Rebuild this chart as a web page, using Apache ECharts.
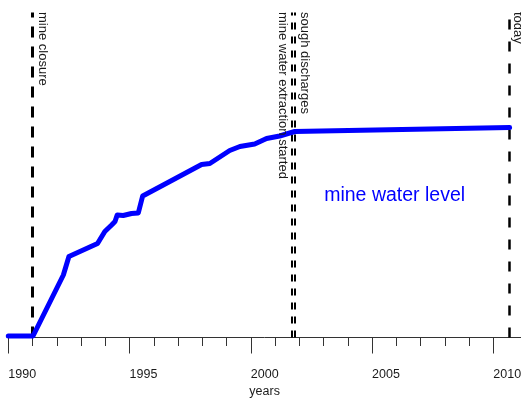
<!DOCTYPE html>
<html>
<head>
<meta charset="utf-8">
<script src="https://cdn.jsdelivr.net/npm/echarts@6/dist/echarts.min.js"></script>
<style>
  html, body { margin: 0; padding: 0; background: #fff; }
  #chart { width: 521px; height: 398px; }
</style>
</head>
<body>
<div id="chart"></div>
<script>
// Mine water level (relative rise) over time
const years = [1990.0, 1991.02, 1992.27, 1992.5, 1993.68, 1993.98, 1994.26, 1994.4, 1994.49,
               1994.74, 1995.08, 1995.36, 1995.54, 1996.66, 1997.97, 1998.31, 1999.13,
               1999.55, 2000.16, 2000.65, 2001.19, 2001.81, 2010.67];
const waterLevel = [1.5, 1.5, 62.5, 81, 94, 106, 112.5, 116, 122.5,
                    122, 124, 124.5, 141.5, 156, 173, 174, 187,
                    191, 193.5, 199, 201.5, 206, 210];

// Event markers
const closureYear = 1991.0;
const extractionYear = 2001.68;
const soughYear = 2001.81;
const todayYear = 2010.65;

// Axis ticks and labels
const yearTicks = [1990, 1991, 1992, 1993, 1994, 1995, 1996, 1997, 1998, 1999, 2000,
                   2001, 2002, 2003, 2004, 2005, 2006, 2007, 2008, 2009, 2010];
const majorTicks = [1990, 1995, 2000, 2005, 2010];

const FONT = '"Liberation Sans", Arial, sans-serif';
const TEXT = '#1a1a1a';

const chart = echarts.init(document.getElementById('chart'), null, { renderer: 'canvas' });

const xMin = 1990, xMax = 2011.14;

chart.setOption({
  animation: false,
  backgroundColor: '#ffffff',
  grid: { left: 8.3, right: 0, top: 12.5, bottom: 60.5, containLabel: false, outerBoundsMode: 'none' },
  xAxis: [
    {
      type: 'value', min: xMin, max: xMax,
      axisLine: { show: true, lineStyle: { color: '#333', width: 1 } },
      axisTick: { show: true, length: 8.5, customValues: yearTicks, lineStyle: { color: '#333', width: 1 } },
      axisLabel: { show: false },
      splitLine: { show: false },
      name: 'years', nameLocation: 'middle', nameGap: 47.5,
      nameTextStyle: { fontFamily: FONT, fontSize: 12.5, color: TEXT }
    },
    {
      type: 'value', min: xMin, max: xMax, position: 'bottom',
      axisLine: { show: false },
      axisTick: { show: true, length: 16, customValues: majorTicks, lineStyle: { color: '#333', width: 1 } },
      axisLabel: {
        show: true, customValues: majorTicks, align: 'left', margin: 30.5,
        fontFamily: FONT, fontSize: 12.5, color: TEXT,
        formatter: v => String(v)
      },
      splitLine: { show: false }
    }
  ],
  yAxis: { type: 'value', min: 0, max: 325, show: false },
  series: [
    {
      type: 'line',
      xAxisIndex: 0,
      data: years.map((y, i) => [y, waterLevel[i]]),
      showSymbol: false,
      lineStyle: { color: '#0000ff', width: 5, cap: 'round', join: 'round' },
      z: 3,
      markLine: {
        silent: true, symbol: 'none', animation: false,
        label: { show: false },
        data: [
          { xAxis: closureYear, lineStyle: { color: '#000', width: 3, type: [11, 9] } },
          { xAxis: extractionYear, lineStyle: { color: '#000', width: 2, type: [7, 7] } },
          { xAxis: soughYear, lineStyle: { color: '#000', width: 2, type: [7, 7] } },
          { xAxis: todayYear, lineStyle: { color: '#000', width: 2.5, type: [10, 12] } }
        ],
        z: 2
      }
    }
  ]
});

// Rotated event captions placed beside their marker lines
function px(year) { return chart.convertToPixel({ xAxisIndex: 0 }, year); }
function levelPx(v) { return chart.convertToPixel({ yAxisIndex: 0 }, v); }

function vText(x, text) {
  return {
    type: 'text', x: x, y: 12, rotation: -Math.PI / 2, silent: true, z: 10,
    style: { text: text, fill: TEXT, font: '13px ' + FONT, textAlign: 'left', textVerticalAlign: 'middle' }
  };
}

chart.setOption({
  graphic: [
    vText(px(closureYear) + 10, 'mine closure'),
    vText(px(extractionYear) - 9, 'mine water extraction started'),
    vText(px(soughYear) + 10, 'sough discharges'),
    vText(px(todayYear) + 8.5, 'today'),
    {
      type: 'text', silent: true, z: 10,
      x: px(2005.93), y: levelPx(141.5),
      style: { text: 'mine water level', fill: '#0000ff', font: '19.5px ' + FONT, textAlign: 'center', textVerticalAlign: 'middle' }
    }
  ]
});
</script>
</body>
</html>
